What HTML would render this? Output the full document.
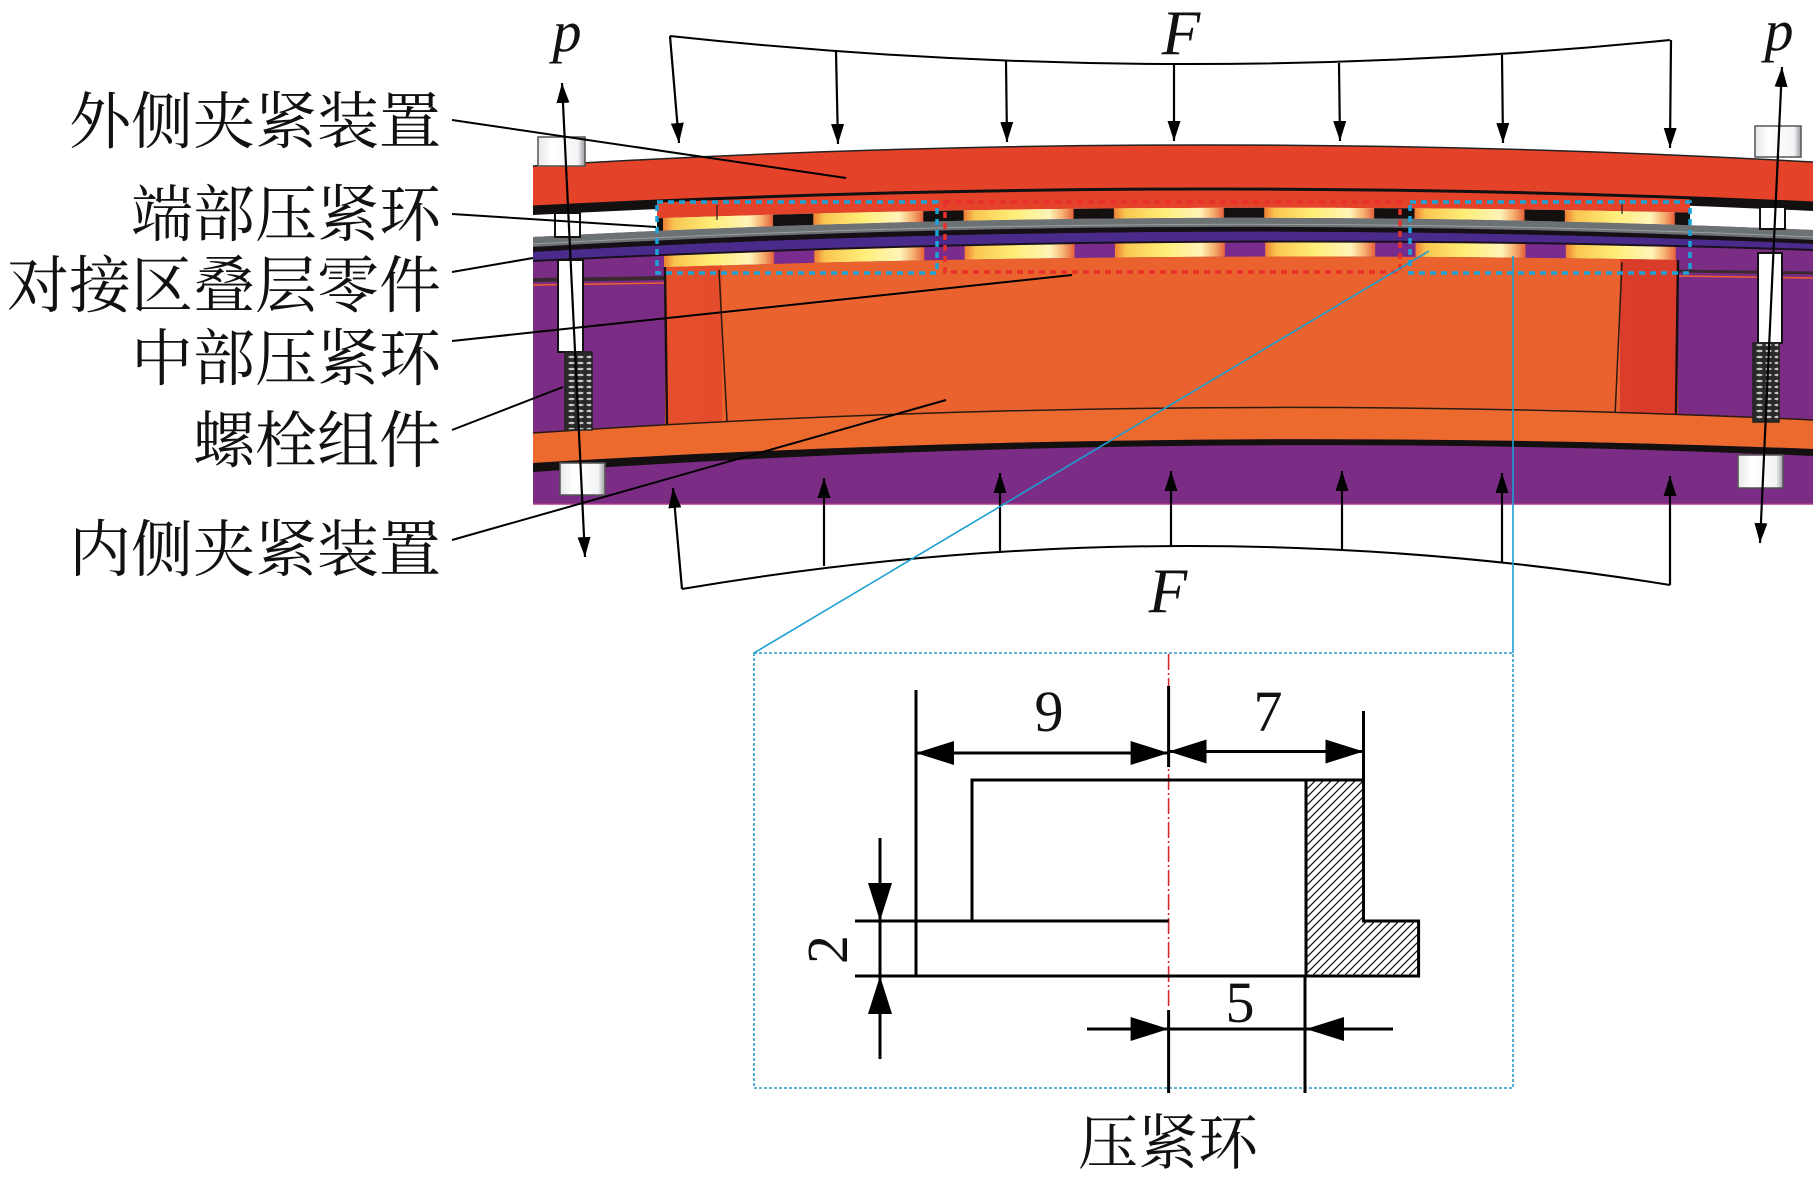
<!DOCTYPE html>
<html><head><meta charset="utf-8">
<style>
html,body{margin:0;padding:0;background:#fff;}
svg{display:block;}
.cj{font-family:"Liberation Serif","Noto Serif CJK SC","Noto Sans CJK SC",serif;font-size:62px;fill:#111;}
.it{font-family:"Liberation Serif",serif;font-style:italic;fill:#111;}
.dg{font-family:"Liberation Serif",serif;font-size:58px;fill:#111;}
</style></head>
<body>
<svg width="1819" height="1195" viewBox="0 0 1819 1195" xmlns="http://www.w3.org/2000/svg">
<defs>
  <marker id="ah" viewBox="0 0 20 13" refX="20" refY="6.5" markerWidth="20" markerHeight="13" markerUnits="userSpaceOnUse" orient="auto-start-reverse">
    <path d="M0,0 L20,6.5 L0,13 Z" fill="#000"/>
  </marker>
  <marker id="dah" viewBox="0 0 38 24" refX="38" refY="12" markerWidth="38" markerHeight="24" markerUnits="userSpaceOnUse" orient="auto-start-reverse">
    <path d="M0,0 L38,12 L0,24 Z" fill="#000"/>
  </marker>
  <linearGradient id="padG" x1="0" y1="0" x2="1" y2="0">
    <stop offset="0" stop-color="#EE7E35"/>
    <stop offset="0.1" stop-color="#F9C650"/>
    <stop offset="0.45" stop-color="#FFEE78"/>
    <stop offset="0.78" stop-color="#FFF4B8"/>
    <stop offset="0.9" stop-color="#F6B070"/>
    <stop offset="1" stop-color="#E4603A"/>
  </linearGradient>
  <pattern id="padU" patternUnits="userSpaceOnUse" x="663" y="0" width="150.3" height="1195">
    <rect width="151" height="1195" fill="#141010"/>
    <rect x="0" width="110" height="1195" fill="url(#padG)"/>
  </pattern>
  <pattern id="padL" patternUnits="userSpaceOnUse" x="664" y="0" width="150.3" height="1195">
    <rect width="151" height="1195" fill="#7A2C8E"/>
    <rect x="0" width="110" height="1195" fill="url(#padG)"/>
  </pattern>
  <pattern id="thr" patternUnits="userSpaceOnUse" width="9" height="6">
    <rect width="9" height="6" fill="#2a2a2a"/>
    <ellipse cx="4.5" cy="3" rx="3.2" ry="1.3" fill="#c8c8c8"/>
  </pattern>
  <linearGradient id="cylL" x1="0" y1="0" x2="1" y2="0">
    <stop offset="0" stop-color="#E8562C"/>
    <stop offset="0.35" stop-color="#DE3F29"/>
    <stop offset="0.75" stop-color="#E4472B"/>
    <stop offset="1" stop-color="#E9602E"/>
  </linearGradient>
  <linearGradient id="cylR" x1="0" y1="0" x2="1" y2="0">
    <stop offset="0" stop-color="#EA6A30"/>
    <stop offset="0.5" stop-color="#E44B2B"/>
    <stop offset="1" stop-color="#D6372A"/>
  </linearGradient>
  <linearGradient id="bh" x1="0" y1="0" x2="1" y2="0">
    <stop offset="0" stop-color="#e8e8ea"/>
    <stop offset="0.3" stop-color="#ffffff"/>
    <stop offset="0.85" stop-color="#f4f4f6"/>
    <stop offset="1" stop-color="#9a9aa0"/>
  </linearGradient>
  <clipPath id="cMid"><rect x="657" y="0" width="1033" height="600"/></clipPath>
  <clipPath id="cBody"><rect x="665" y="0" width="1013" height="600"/></clipPath>
  <clipPath id="cCylL"><rect x="667" y="0" width="55" height="600"/></clipPath>
  <clipPath id="cCylR"><rect x="1620" y="0" width="57" height="600"/></clipPath>
  <clipPath id="cHatch"><path d="M1306,780 L1363.5,780 L1363.5,921 L1418.6,921 L1418.6,976 L1306,976 Z"/></clipPath>
</defs>

<!-- ===== Main assembly ===== -->
<!-- purple base -->
<path d="M533,166 Q1173,126 1813,162 L1813,504 L533,504 Z" fill="#7B2D85"/>
<!-- top red plate -->
<path d="M533,166 Q1173,126 1813,162 L1813,203 Q1173,173 533,207 Z" fill="#E4432A"/>
<path d="M533,166 Q1173,126 1813,162" fill="none" stroke="#222" stroke-width="1.5"/>
<!-- white gap band -->
<path d="M533,207 Q1173,173 1813,203 L1813,230 Q1173,202.5 533,237 Z" fill="#fff"/>
<!-- black band under red plate -->
<path d="M533,207 Q1173,173 1813,203 L1813,211 Q1173,181 533,215 Z" fill="#151010"/>
<!-- red ring blocks (middle) -->
<path clip-path="url(#cMid)" d="M533,207 Q1173,173 1813,203 L1813,216 Q1173,196.5 533,223 Z" fill="#E4432A"/>
<path d="M533,207 Q1173,173 1813,203" fill="none" stroke="#111" stroke-width="3"/>
<!-- upper pad row -->
<path clip-path="url(#cMid)" d="M533,223 Q1173,196.5 1813,216 L1813,230 Q1173,202.5 533,237 Z" fill="url(#padU)"/>
<line x1="717" y1="205" x2="717" y2="220" stroke="#222" stroke-width="1.2"/>
<line x1="1622" y1="202" x2="1622" y2="214" stroke="#222" stroke-width="1.2"/>
<!-- gray laminate -->
<path d="M533,237 Q1173,202.5 1813,230 L1813,240 Q1173,210.5 533,247 Z" fill="#6C7174"/>
<path d="M533,244 Q1173,208.5 1813,237" fill="none" stroke="#9aa0a2" stroke-width="1"/>
<!-- black -->
<path d="M533,247 Q1173,210.5 1813,240 L1813,244 Q1173,216 533,252 Z" fill="#151015"/>
<!-- indigo -->
<path d="M533,252 Q1173,216 1813,244 L1813,250 Q1173,228.5 533,261 Z" fill="#4A2B8C"/>
<!-- lower pad row -->
<path clip-path="url(#cMid)" d="M533,261 Q1173,228.5 1813,250 L1813,263 Q1173,246.5 533,272 Z" fill="url(#padL)"/>
<path d="M533,261 Q1173,228.5 1813,250" fill="none" stroke="#1a1020" stroke-width="2"/>
<!-- end-region lines -->
<path d="M533,280 L665,278" stroke="#3a2a30" stroke-width="4"/>
<path d="M533,285 L665,283" stroke="#F0602A" stroke-width="1.5"/>
<path d="M1678,271 L1813,273" stroke="#3a2a30" stroke-width="3"/>
<path d="M1678,276 L1813,278" stroke="#F0602A" stroke-width="1.5"/>
<!-- middle orange body -->
<path clip-path="url(#cBody)" d="M533,272 Q1173,246.5 1813,263 L1813,420 Q1173,389.5 533,433 Z" fill="#EA632F"/>
<!-- cylinders -->
<path clip-path="url(#cCylL)" d="M533,272 Q1173,246.5 1813,263 L1813,420 Q1173,389.5 533,433 Z" fill="url(#cylL)"/>
<path clip-path="url(#cCylR)" d="M533,272 Q1173,246.5 1813,263 L1813,420 Q1173,389.5 533,433 Z" fill="url(#cylR)"/>
<line x1="665" y1="267" x2="667" y2="425" stroke="#1a1010" stroke-width="2.5"/>
<line x1="1678" y1="260" x2="1676" y2="415" stroke="#1a1010" stroke-width="2.5"/>
<line x1="719" y1="270" x2="727" y2="421" stroke="#2a1a10" stroke-width="1.5"/>
<line x1="1622" y1="262" x2="1615" y2="417" stroke="#2a1a10" stroke-width="1.5"/>
<!-- lower orange plate -->
<path d="M533,433 Q1173,389.5 1813,420 L1813,449 Q1173,424 533,463 Z" fill="#EC6A2D"/>
<path d="M533,433 Q1173,389.5 1813,420" fill="none" stroke="#2a1a10" stroke-width="1.5"/>
<!-- black band -->
<path d="M533,463 Q1173,424 1813,449 L1813,456 Q1173,428 533,472 Z" fill="#141010"/>
<line x1="533" y1="504" x2="1813" y2="504" stroke="#B03A86" stroke-width="1.5"/>

<!-- bolts -->
<rect x="538" y="137" width="47" height="29" fill="url(#bh)" stroke="#555" stroke-width="1.5"/>
<rect x="555" y="213" width="25" height="24" fill="#fff" stroke="#111" stroke-width="2"/>
<rect x="558" y="260" width="25" height="92" fill="#fff" stroke="#111" stroke-width="2"/>
<rect x="565" y="352" width="27" height="78" fill="url(#thr)" stroke="#222" stroke-width="1.5"/>
<rect x="560" y="463" width="45" height="32" fill="url(#bh)" stroke="#555" stroke-width="1.5"/>

<rect x="1755" y="126" width="46" height="31" fill="url(#bh)" stroke="#555" stroke-width="1.5"/>
<rect x="1760" y="207" width="25" height="22" fill="#fff" stroke="#111" stroke-width="2"/>
<rect x="1758" y="253" width="24" height="90" fill="#fff" stroke="#111" stroke-width="2"/>
<rect x="1753" y="343" width="26" height="79" fill="url(#thr)" stroke="#222" stroke-width="1.5"/>
<rect x="1738" y="455" width="45" height="33" fill="url(#bh)" stroke="#555" stroke-width="1.5"/>

<!-- dotted boxes -->
<rect x="657" y="202" width="280" height="71" fill="none" stroke="#1BA3D8" stroke-width="3.5" stroke-dasharray="6 5"/>
<rect x="945" y="202" width="455" height="70" fill="none" stroke="#E8302A" stroke-width="3.5" stroke-dasharray="6 5"/>
<rect x="1410" y="202" width="280" height="71" fill="none" stroke="#1BA3D8" stroke-width="3.5" stroke-dasharray="6 5"/>

<!-- ===== Loads ===== -->
<g stroke="#000" stroke-width="2" fill="none">
  <path d="M670,36 Q1170,90 1670,40"/>
  <path d="M682,589 Q1176,505 1670,585"/>
</g>
<g stroke="#000" stroke-width="2.2" marker-end="url(#ah)">
  <line x1="670" y1="36" x2="679" y2="143"/>
  <line x1="836" y1="52" x2="838" y2="144"/>
  <line x1="1006" y1="61" x2="1007" y2="142"/>
  <line x1="1174" y1="64" x2="1174" y2="141"/>
  <line x1="1339" y1="63" x2="1340" y2="141"/>
  <line x1="1502" y1="55" x2="1503" y2="143"/>
  <line x1="1671" y1="40" x2="1670" y2="148"/>

  <line x1="682" y1="589" x2="673" y2="488"/>
  <line x1="824" y1="566" x2="824" y2="478"/>
  <line x1="1000" y1="553" x2="1000" y2="473"/>
  <line x1="1171" y1="547" x2="1171" y2="471"/>
  <line x1="1342" y1="551" x2="1342" y2="471"/>
  <line x1="1502" y1="563" x2="1502" y2="473"/>
  <line x1="1670" y1="585" x2="1670" y2="476"/>
</g>
<!-- p arrows -->
<line x1="562" y1="83" x2="585" y2="557" stroke="#000" stroke-width="2.2" marker-start="url(#ah)" marker-end="url(#ah)"/>
<line x1="1782" y1="67" x2="1760" y2="543" stroke="#000" stroke-width="2.2" marker-start="url(#ah)" marker-end="url(#ah)"/>

<text class="it" x="1181" y="54" font-size="63" text-anchor="middle">F</text>
<text class="it" x="1168" y="612" font-size="63" text-anchor="middle">F</text>
<text class="it" x="567" y="51" font-size="58" text-anchor="middle">p</text>
<text class="it" x="1779" y="50" font-size="58" text-anchor="middle">p</text>

<!-- ===== Labels & leaders ===== -->
<text class="cj" x="441" y="143" text-anchor="end">外侧夹紧装置</text>
<text class="cj" x="441" y="236" text-anchor="end">端部压紧环</text>
<text class="cj" x="441" y="307" text-anchor="end">对接区叠层零件</text>
<text class="cj" x="441" y="380" text-anchor="end">中部压紧环</text>
<text class="cj" x="441" y="462" text-anchor="end">螺栓组件</text>
<text class="cj" x="441" y="571" text-anchor="end">内侧夹紧装置</text>
<g stroke="#000" stroke-width="2">
  <line x1="452" y1="120" x2="846" y2="178"/>
  <line x1="452" y1="214" x2="656" y2="227"/>
  <line x1="452" y1="272" x2="533" y2="258"/>
  <line x1="452" y1="341" x2="1072" y2="275"/>
  <line x1="452" y1="430" x2="563" y2="387"/>
  <line x1="452" y1="540" x2="946" y2="400"/>
</g>

<!-- cyan callout -->
<g stroke="#1A9FD0" stroke-width="1.6">
  <line x1="1429" y1="251" x2="754" y2="653"/>
  <line x1="1513" y1="256" x2="1513" y2="653"/>
</g>
<rect x="754" y="653" width="759" height="435" fill="none" stroke="#2C9AC7" stroke-width="1.6" stroke-dasharray="3 2"/>

<!-- ===== Detail drawing ===== -->
<g clip-path="url(#cHatch)" stroke="#111" stroke-width="1.2">
  <line x1="1296" y1="800" x2="1376" y2="720"/>
  <line x1="1296" y1="808" x2="1376" y2="728"/>
  <line x1="1296" y1="816" x2="1376" y2="736"/>
  <line x1="1296" y1="824" x2="1376" y2="744"/>
  <line x1="1296" y1="832" x2="1376" y2="752"/>
  <line x1="1296" y1="840" x2="1376" y2="760"/>
  <line x1="1296" y1="848" x2="1376" y2="768"/>
  <line x1="1296" y1="856" x2="1376" y2="776"/>
  <line x1="1296" y1="864" x2="1376" y2="784"/>
  <line x1="1296" y1="872" x2="1376" y2="792"/>
  <line x1="1296" y1="880" x2="1376" y2="800"/>
  <line x1="1296" y1="888" x2="1376" y2="808"/>
  <line x1="1296" y1="896" x2="1376" y2="816"/>
  <line x1="1296" y1="904" x2="1376" y2="824"/>
  <line x1="1296" y1="912" x2="1376" y2="832"/>
  <line x1="1296" y1="920" x2="1430" y2="786"/>
  <line x1="1296" y1="928" x2="1430" y2="794"/>
  <line x1="1296" y1="936" x2="1430" y2="802"/>
  <line x1="1296" y1="944" x2="1430" y2="810"/>
  <line x1="1296" y1="952" x2="1430" y2="818"/>
  <line x1="1296" y1="960" x2="1430" y2="826"/>
  <line x1="1296" y1="968" x2="1430" y2="834"/>
  <line x1="1296" y1="976" x2="1430" y2="842"/>
  <line x1="1296" y1="984" x2="1430" y2="850"/>
  <line x1="1296" y1="992" x2="1430" y2="858"/>
  <line x1="1304" y1="992" x2="1430" y2="866"/>
  <line x1="1312" y1="992" x2="1430" y2="874"/>
  <line x1="1320" y1="992" x2="1430" y2="882"/>
  <line x1="1328" y1="992" x2="1430" y2="890"/>
  <line x1="1336" y1="992" x2="1430" y2="898"/>
  <line x1="1344" y1="992" x2="1430" y2="906"/>
  <line x1="1352" y1="992" x2="1430" y2="914"/>
  <line x1="1360" y1="992" x2="1430" y2="922"/>
  <line x1="1368" y1="992" x2="1430" y2="930"/>
  <line x1="1376" y1="992" x2="1430" y2="938"/>
  <line x1="1384" y1="992" x2="1430" y2="946"/>
  <line x1="1392" y1="992" x2="1430" y2="954"/>
  <line x1="1400" y1="992" x2="1430" y2="962"/>
  <line x1="1408" y1="992" x2="1430" y2="970"/>
</g>
<!-- centerline -->
<line x1="1168.6" y1="654" x2="1168.6" y2="1008" stroke="#D9282F" stroke-width="1.6" stroke-dasharray="16 3 2 3"/>
<g stroke="#000" stroke-width="3" fill="none" stroke-linecap="butt">
  <path d="M1306,780 L1363.5,780 L1363.5,921 L1418.6,921 L1418.6,976 L1306,976 Z"/>
  <polyline points="972,921 972,780 1306,780"/>
  <line x1="855" y1="921" x2="1168.6" y2="921"/>
  <line x1="855" y1="976" x2="1306" y2="976"/>
  <line x1="916" y1="690" x2="916" y2="976"/>
  <line x1="1168.6" y1="686" x2="1168.6" y2="767"/>
  <line x1="1363.5" y1="711" x2="1363.5" y2="780"/>
  <line x1="1168.6" y1="1010" x2="1168.6" y2="1093"/>
  <line x1="1305" y1="976" x2="1305" y2="1093"/>
</g>
<g stroke="#000" stroke-width="3">
  <line x1="916" y1="753" x2="1168.6" y2="753" marker-start="url(#dah)" marker-end="url(#dah)"/>
  <line x1="1168.6" y1="751.5" x2="1363.5" y2="751.5" marker-start="url(#dah)" marker-end="url(#dah)"/>
  <line x1="880" y1="838" x2="880" y2="1059"/>
  <line x1="880" y1="870" x2="880" y2="921" marker-end="url(#dah)"/>
  <line x1="880" y1="1025" x2="880" y2="976" marker-end="url(#dah)"/>
  <line x1="1087" y1="1029" x2="1393" y2="1029"/>
  <line x1="1110" y1="1029" x2="1168.6" y2="1029" marker-end="url(#dah)"/>
  <line x1="1360" y1="1029" x2="1306" y2="1029" marker-end="url(#dah)"/>
</g>
<text class="dg" x="1049" y="731" text-anchor="middle">9</text>
<text class="dg" x="1268" y="731" text-anchor="middle">7</text>
<text class="dg" x="1240" y="1022" text-anchor="middle">5</text>
<text class="dg" x="847" y="949.5" text-anchor="middle" transform="rotate(-90 847 949.5)">2</text>
<text class="cj" x="1168" y="1164" font-size="60" text-anchor="middle" style="font-size:60px">压紧环</text>
</svg>
</body></html>
